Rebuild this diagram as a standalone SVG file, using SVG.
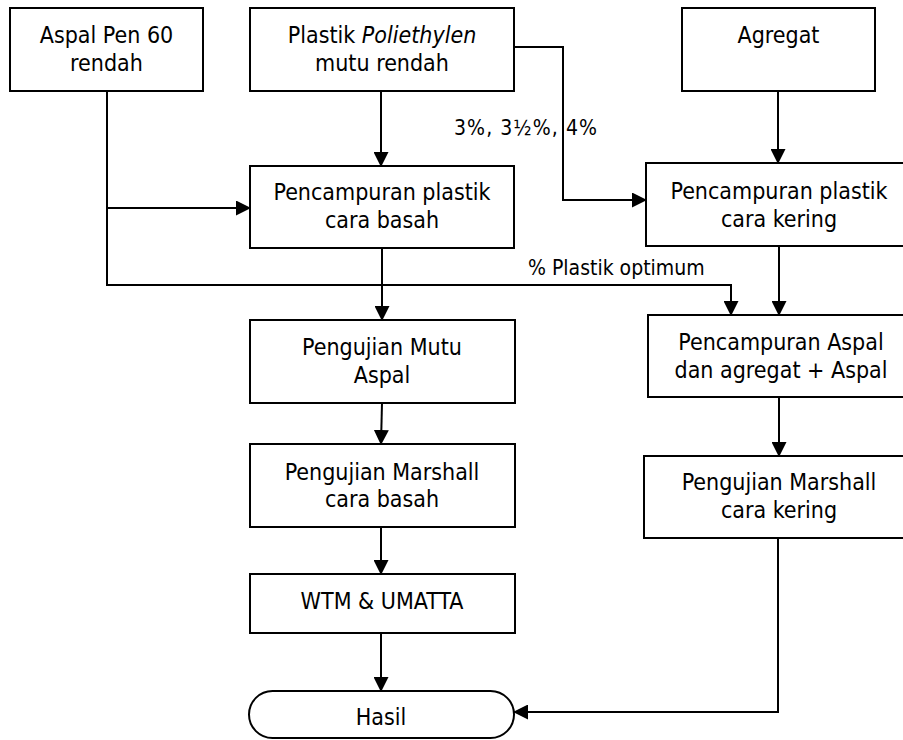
<svg xmlns="http://www.w3.org/2000/svg" width="903" height="740" viewBox="0 0 903 740">
<style>
.box{fill:#fff;stroke:#000;stroke-width:2}
.t{font-family:"DejaVu Sans Condensed","DejaVu Sans",sans-serif;font-size:23px;fill:#000;text-anchor:middle}
.lbl{font-family:"DejaVu Sans Condensed","DejaVu Sans",sans-serif;font-size:21px;fill:#000}
.c{fill:none;stroke:#000;stroke-width:2}
</style>
<defs>
<marker id="ah" markerUnits="userSpaceOnUse" markerWidth="15" markerHeight="15" refX="14" refY="7.5" orient="auto" viewBox="0 0 15 15">
<path d="M0,0 L15,7.5 L0,15 Z" fill="#000"/>
</marker>
</defs>
<rect width="903" height="740" fill="#fff"/>
<g id="connectors">
<path class="c" d="M107,91 V285 H731 V315" marker-end="url(#ah)"/>
<path class="c" d="M107,208 H250" marker-end="url(#ah)"/>
<path class="c" d="M381,91 V166" marker-end="url(#ah)"/>
<path class="c" d="M514,47 H563 V200 H646" marker-end="url(#ah)"/>
<path class="c" d="M778,91 V163" marker-end="url(#ah)"/>
<path class="c" d="M382,248 V320" marker-end="url(#ah)"/>
<path class="c" d="M382,403 L381,444" marker-end="url(#ah)"/>
<path class="c" d="M381,527 V574" marker-end="url(#ah)"/>
<path class="c" d="M381,633 V691" marker-end="url(#ah)"/>
<path class="c" d="M779,246 V315" marker-end="url(#ah)"/>
<path class="c" d="M779,397 V456" marker-end="url(#ah)"/>
<path class="c" d="M778,538 V712 H514" marker-end="url(#ah)"/>
<text class="lbl" x="454" y="135" textLength="143" lengthAdjust="spacing">3%, 3½%, 4%</text>
<text class="lbl" x="528" y="275">% Plastik optimum</text>
</g>
<g id="aspal">
<rect class="box" x="10" y="8" width="193" height="83"/>
<text class="t" x="106.5" y="43">Aspal Pen 60</text>
<text class="t" x="106.5" y="71">rendah</text>
</g>
<g id="plastik">
<rect class="box" x="250" y="8" width="264" height="83"/>
<text class="t" x="382" y="43">Plastik <tspan font-style="italic">Poliethylen</tspan></text>
<text class="t" x="382" y="71">mutu rendah</text>
</g>
<g id="agregat">
<rect class="box" x="682" y="8" width="193" height="83"/>
<text class="t" x="778.5" y="43">Agregat</text>
</g>
<g id="basah">
<rect class="box" x="250" y="166" width="264" height="82"/>
<text class="t" x="382" y="200">Pencampuran plastik</text>
<text class="t" x="382" y="228">cara basah</text>
</g>
<g id="kering">
<rect class="box" x="646" y="163" width="266" height="83"/>
<text class="t" x="779" y="199">Pencampuran plastik</text>
<text class="t" x="779" y="227">cara kering</text>
</g>
<g id="mutu">
<rect class="box" x="250" y="320" width="265" height="83"/>
<text class="t" x="382" y="355">Pengujian Mutu</text>
<text class="t" x="382" y="383">Aspal</text>
</g>
<g id="campuranAspal">
<rect class="box" x="648" y="315" width="266" height="82"/>
<text class="t" x="781" y="350">Pencampuran Aspal</text>
<text class="t" x="781" y="378">dan agregat + Aspal</text>
</g>
<g id="marshallBasah">
<rect class="box" x="250" y="444" width="265" height="83"/>
<text class="t" x="382" y="480">Pengujian Marshall</text>
<text class="t" x="382" y="507">cara basah</text>
</g>
<g id="marshallKering">
<rect class="box" x="644" y="456" width="270" height="82"/>
<text class="t" x="779" y="490">Pengujian Marshall</text>
<text class="t" x="779" y="518">cara kering</text>
</g>
<g id="wtm">
<rect class="box" x="250" y="574" width="265" height="59"/>
<text class="t" x="382" y="609">WTM &amp; UMATTA</text>
</g>
<g id="hasil">
<rect class="box" x="249" y="691" width="265" height="47" rx="23.5" ry="23.5"/>
<text class="t" x="381" y="725">Hasil</text>
</g>
</svg>
